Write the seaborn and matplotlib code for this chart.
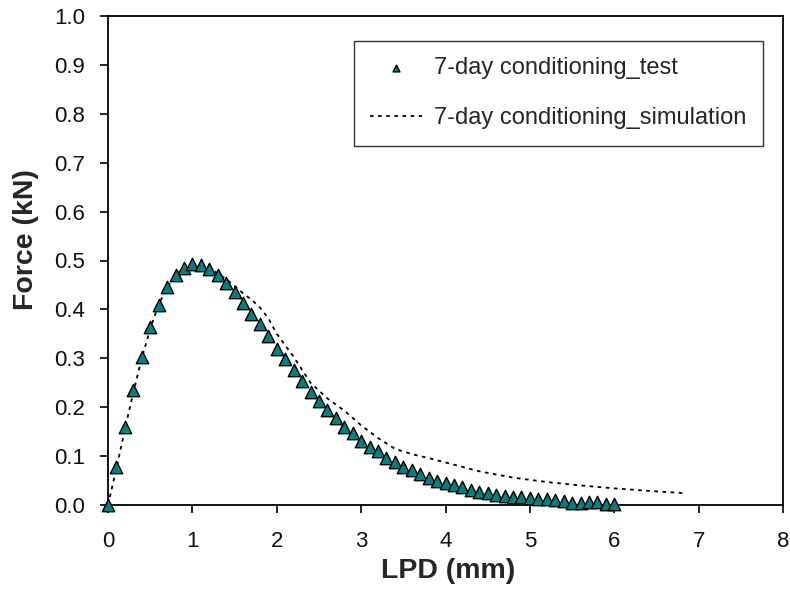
import numpy as np
import pandas as pd
import matplotlib
matplotlib.use("Agg")
import matplotlib.pyplot as plt
import seaborn as sns

# Test data (every 0.1 mm)
test_x = [round(0.1 * i, 1) for i in range(61)]
test_y = [0.0, 0.078, 0.159, 0.235, 0.303, 0.363, 0.410, 0.445, 0.470, 0.485,
          0.492, 0.490, 0.483, 0.470, 0.454, 0.435, 0.414, 0.391, 0.370, 0.345,
          0.320, 0.298, 0.276, 0.253, 0.231, 0.212, 0.194, 0.177, 0.159, 0.147,
          0.131, 0.119, 0.110, 0.097, 0.087, 0.077, 0.071, 0.063, 0.056, 0.050,
          0.046, 0.040, 0.036, 0.031, 0.027, 0.025, 0.020, 0.018, 0.017, 0.016,
          0.015, 0.012, 0.012, 0.010, 0.009, 0.005, 0.005, 0.006, 0.006, 0.003,
          0.003]

# Simulation curve
sim_x = [0, 0.1, 0.2, 0.3, 0.4, 0.5, 0.6, 0.7, 0.8, 0.9, 1.0, 1.1, 1.2, 1.3,
         1.4, 1.5, 1.6, 1.7, 1.8, 1.9, 2.0, 2.2, 2.4, 2.6, 2.8, 3.0, 3.2, 3.4,
         3.6, 3.8, 4.0, 4.4, 4.8, 5.2, 5.6, 6.0, 6.4, 6.85]
sim_y = [0, 0.075, 0.155, 0.23, 0.30, 0.36, 0.41, 0.445, 0.47, 0.485, 0.49,
         0.49, 0.484, 0.474, 0.462, 0.448, 0.433, 0.42, 0.404, 0.382, 0.35,
         0.303, 0.25, 0.218, 0.193, 0.163, 0.137, 0.115, 0.104, 0.096, 0.087,
         0.069, 0.056, 0.047, 0.040, 0.034, 0.029, 0.024]

x_ticks = [0, 1, 2, 3, 4, 5, 6, 7, 8]
y_ticks = [0.0, 0.1, 0.2, 0.3, 0.4, 0.5, 0.6, 0.7, 0.8, 0.9, 1.0]

test_label = "7-day conditioning_test"
sim_label = "7-day conditioning_simulation"

sns.set_style("ticks")
plt.rcParams['font.family'] = ['Liberation Sans', 'DejaVu Sans']

fig = plt.figure(figsize=(7.9, 5.94), dpi=100)
ax = fig.add_axes([108 / 790, 89 / 594, 675 / 790, 489 / 594])

df_test = pd.DataFrame({"x": test_x, "y": test_y})
df_sim = pd.DataFrame({"x": sim_x, "y": sim_y})

sns.scatterplot(data=df_test, x="x", y="y", ax=ax, marker="^", s=80,
                color="#008080", edgecolor="black", linewidth=1.0,
                label=test_label, zorder=3, clip_on=False)
sns.lineplot(data=df_sim, x="x", y="y", ax=ax, color="black", lw=1.3,
             linestyle=(0, (2, 2.5)), label=sim_label, zorder=2, sort=False)

ax.set_xlim(0, 8)
ax.set_ylim(0, 1.0)
ax.set_xticks(x_ticks)
ax.set_yticks(y_ticks)
ax.set_xticklabels([str(t) for t in x_ticks])
ax.set_yticklabels([f"{t:.1f}" for t in y_ticks])
ax.tick_params(axis="both", direction="out", length=6, width=1.2,
               labelsize=16, color="black", labelcolor="#111111")
ax.tick_params(axis="x", pad=13)
ax.tick_params(axis="y", pad=10.5)
for s in ax.spines.values():
    s.set_linewidth(1.3)
    s.set_color("black")

ax.set_xlabel("LPD (mm)", fontsize=20.5, fontweight="bold")
ax.set_ylabel("Force (kN)", fontsize=20.5, fontweight="bold")
ax.xaxis.set_label_coords(0.504, -0.108)
ax.yaxis.set_label_coords(-0.102, 0.542)

leg = ax.legend(loc="upper right", bbox_to_anchor=(0.970, 0.949),
                borderaxespad=0, frameon=True, fancybox=False, fontsize=17,
                markerscale=0.55, handlelength=2.2, labelspacing=1.18,
                borderpad=0.7, handletextpad=0.5)
leg.get_frame().set_edgecolor("black")
leg.get_frame().set_linewidth(1.0)

fig.savefig("out.png", dpi=100)
